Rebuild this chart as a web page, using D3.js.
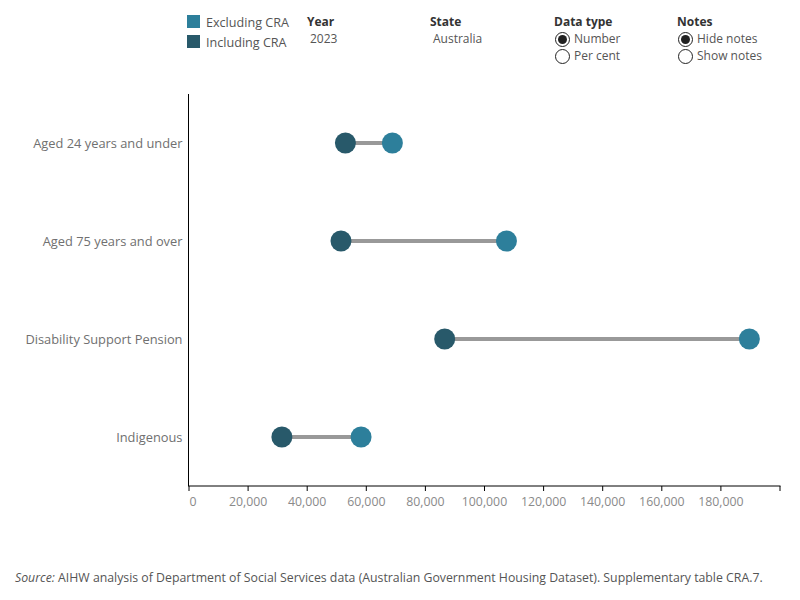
<!DOCTYPE html>
<html>
<head>
<meta charset="utf-8">
<script src="https://cdn.jsdelivr.net/npm/d3@7"></script>
<style>
  body { margin: 0; background: #fff; }
  svg { display: block; font-family: "Open Sans", "Noto Sans", sans-serif; }
</style>
</head>
<body>
<svg id="chart" width="800" height="600"></svg>
<script>
const categories = ["Aged 24 years and under", "Aged 75 years and over", "Disability Support Pension", "Indigenous"];
const includingCRA = [53100, 51600, 86700, 31600];
const excludingCRA = [69000, 107600, 189800, 58400];
const xTicks = [0, 20000, 40000, 60000, 80000, 100000, 120000, 140000, 160000, 180000, 200000];
const xTickLabels = ["0", "20,000", "40,000", "60,000", "80,000", "100,000", "120,000", "140,000", "160,000", "180,000", ""];
const legendLabels = ["Excluding CRA", "Including CRA"];

const colDark = "#28596a";
const colTeal = "#2d7f9b";
const FONT = "'Open Sans', 'Noto Sans', sans-serif";

const svg = d3.select("#chart").attr("font-family", FONT);
const plotLeft = 188.5, plotRight = 779.5, plotTop = 94, plotBottom = 486;

const x = d3.scaleLinear().domain([0, 200000]).range([plotLeft, plotRight]);
const y = d3.scaleBand().domain(categories).range([plotTop, plotBottom]);

// Axes lines
svg.append("line").attr("x1", plotLeft).attr("x2", plotLeft).attr("y1", plotTop).attr("y2", plotBottom)
  .attr("stroke", "#000").attr("stroke-width", 1);

const xAxis = d3.axisBottom(x).tickValues(xTicks).tickSizeOuter(0).tickSize(5)
  .tickFormat((d, i) => xTickLabels[i]);
const gx = svg.append("g").attr("transform", `translate(0,${plotBottom})`).call(xAxis);
gx.select(".domain").attr("stroke", "#000").attr("d", `M${plotLeft - 0.5},0H${plotRight + 1}`);
gx.selectAll(".tick line").attr("stroke", "#000");
gx.selectAll(".tick text").attr("fill", "#8a8a8a").attr("font-size", 12.3).attr("dy", "0.95em")
  .attr("font-family", FONT)
  .attr("dx", (d, i) => i === 0 ? 4 : 0);

// Y labels
svg.append("g").selectAll("text").data(categories).join("text")
  .attr("x", plotLeft - 6).attr("y", d => y(d) + y.bandwidth() / 2)
  .attr("text-anchor", "end").attr("dominant-baseline", "central")
  .attr("fill", "#707070").attr("font-size", 12.85)
  .text(d => d);

// Connectors
const rows = categories.map((c, i) => ({ c, inc: includingCRA[i], exc: excludingCRA[i] }));
svg.append("g").selectAll("line").data(rows).join("line")
  .attr("x1", d => x(d.inc)).attr("x2", d => x(d.exc))
  .attr("y1", d => y(d.c) + y.bandwidth() / 2).attr("y2", d => y(d.c) + y.bandwidth() / 2)
  .attr("stroke", "#999").attr("stroke-width", 4);

svg.append("g").selectAll("circle").data(rows).join("circle")
  .attr("cx", d => x(d.inc)).attr("cy", d => y(d.c) + y.bandwidth() / 2).attr("r", 10.5)
  .attr("fill", colDark);
svg.append("g").selectAll("circle").data(rows).join("circle")
  .attr("cx", d => x(d.exc)).attr("cy", d => y(d.c) + y.bandwidth() / 2).attr("r", 10.5)
  .attr("fill", colTeal);

// Legend
const lg = svg.append("g");
lg.selectAll("rect").data(legendLabels).join("rect")
  .attr("x", 187).attr("y", (d, i) => 15 + i * 20).attr("width", 13).attr("height", 13)
  .attr("fill", (d, i) => i === 0 ? colTeal : colDark);
lg.selectAll("text.lt").data(legendLabels).join("text").attr("class", "lt")
  .attr("x", 206).attr("y", (d, i) => 26.5 + i * 20).attr("font-size", 12.6).attr("fill", "#555")
  .text(d => d);

const hdr = (tx, xx) => lg.append("text").attr("x", xx).attr("y", 26).attr("font-size", 12)
  .attr("font-weight", "bold").attr("fill", "#333").text(tx);
hdr("Year", 307); hdr("State", 430); hdr("Data type", 554); hdr("Notes", 677);
const val = (tx, xx, yy) => lg.append("text").attr("x", xx).attr("y", yy).attr("font-size", 12)
  .attr("fill", "#555").text(tx);
val("2023", 310, 43); val("Australia", 433, 43);

const radio = (cx, cy, on) => {
  lg.append("circle").attr("cx", cx).attr("cy", cy).attr("r", 7)
    .attr("fill", "#fff").attr("stroke", "#222").attr("stroke-width", 1);
  if (on) lg.append("circle").attr("cx", cx).attr("cy", cy).attr("r", 4.5).attr("fill", "#222");
};
radio(562.5, 39.5, true); radio(562.5, 56.5, false);
radio(685.5, 39.5, true); radio(685.5, 56.5, false);
val("Number", 574, 43); val("Per cent", 574, 60);
val("Hide notes", 697, 43); val("Show notes", 697, 60);

// Source
const src = svg.append("text").attr("x", 15).attr("y", 582).attr("font-size", 12.3)
  .attr("fill", "#555");
src.append("tspan").attr("font-style", "italic").text("Source:");
src.append("tspan").text(" AIHW analysis of Department of Social Services data (Australian Government Housing Dataset). Supplementary table CRA.7.");
</script>
</body>
</html>
